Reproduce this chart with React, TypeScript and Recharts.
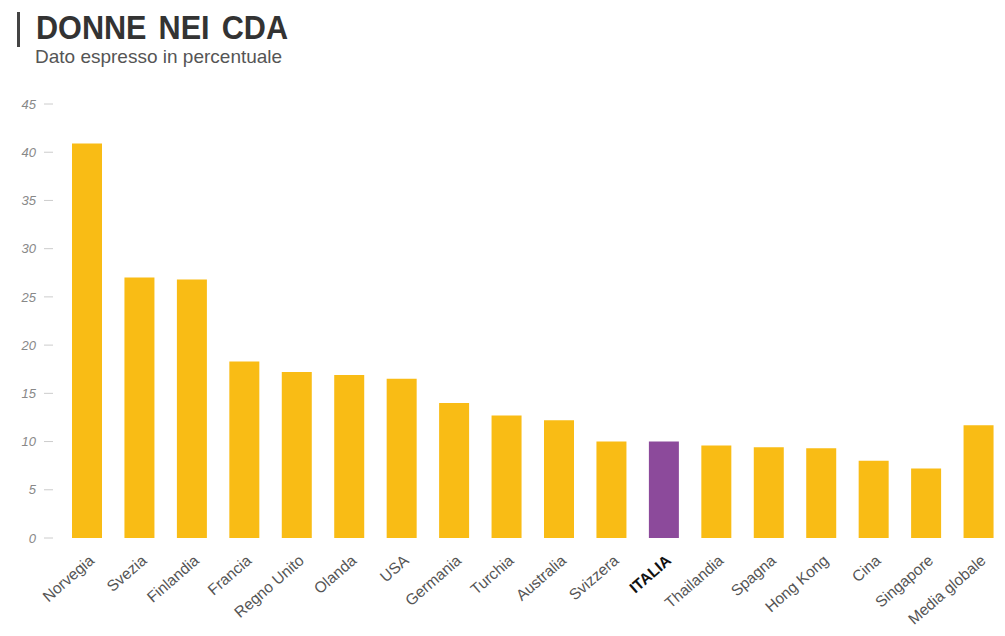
import { BarChart, Bar, XAxis, YAxis, Cell } from "recharts";

const countries = [
  "Norvegia",
  "Svezia",
  "Finlandia",
  "Francia",
  "Regno Unito",
  "Olanda",
  "USA",
  "Germania",
  "Turchia",
  "Australia",
  "Svizzera",
  "ITALIA",
  "Thailandia",
  "Spagna",
  "Hong Kong",
  "Cina",
  "Singapore",
  "Media globale",
];
const percent = [40.9, 27.0, 26.8, 18.3, 17.2, 16.9, 16.5, 14.0, 12.7, 12.2, 10.0, 10.0, 9.6, 9.4, 9.3, 8.0, 7.2, 11.7];
const yTicks = [0, 5, 10, 15, 20, 25, 30, 35, 40, 45];
const highlight = "ITALIA";

const data = countries.map((name, i) => ({ name, value: percent[i] }));

const YELLOW = "#F9BC15";
const PURPLE = "#8C4A9B";
const FONT = "'Liberation Sans', Arial, sans-serif";

function CountryTick(props: any) {
  const { x, y, payload } = props;
  const isItaly = payload.value === highlight;
  return (
    <g transform={`translate(${x + 8},${y + 16})`}>
      <text
        x={0}
        y={0}
        textAnchor="end"
        transform="rotate(-41)"
        fontFamily={FONT}
        fontSize={15.5}
        fontWeight={isItaly ? 700 : 400}
        fill={isItaly ? "#111" : "#555"}
      >
        {payload.value}
      </text>
    </g>
  );
}

export default function App() {
  return (
    <div style={{ position: "absolute", left: 0, top: 0, width: 1005, height: 636, background: "#fff" }}>
      <div style={{ position: "absolute", left: 17, top: 12, width: 3, height: 35, background: "#444" }} />
      <div
        style={{
          position: "absolute",
          left: 36,
          top: 8,
          fontFamily: FONT,
          fontWeight: 700,
          fontSize: 34,
          lineHeight: "39px",
          color: "#333",
          wordSpacing: 4,
          whiteSpace: "nowrap",
          transform: "scaleX(0.9)",
          transformOrigin: "left top",
        }}
      >
        DONNE NEI CDA
      </div>
      <div style={{ position: "absolute", left: 35, top: 46, fontFamily: FONT, fontSize: 19, lineHeight: "22px", color: "#555", whiteSpace: "nowrap" }}>
        Dato espresso in percentuale
      </div>
      <BarChart
        width={1005}
        height={636}
        data={data}
        margin={{ top: 104, right: 0, bottom: 0, left: 0 }}
        barCategoryGap={0}
      >
        <XAxis
          dataKey="name"
          interval={0}
          height={98}
          axisLine={false}
          tickLine={false}
          padding={{ left: 8, right: 0 }}
          tick={<CountryTick />}
        />
        <YAxis
          width={53}
          domain={[0, 45]}
          ticks={yTicks}
          axisLine={false}
          tickSize={9}
          tickMargin={8}
          tickLine={{ stroke: "#ccc" }}
          tick={{ fontFamily: FONT, fontSize: 13, fontStyle: "italic", fill: "#888" }}
        />
        <Bar dataKey="value" barSize={30} isAnimationActive={false}>
          {data.map((d) => (
            <Cell key={d.name} fill={d.name === highlight ? PURPLE : YELLOW} />
          ))}
        </Bar>
      </BarChart>
    </div>
  );
}
